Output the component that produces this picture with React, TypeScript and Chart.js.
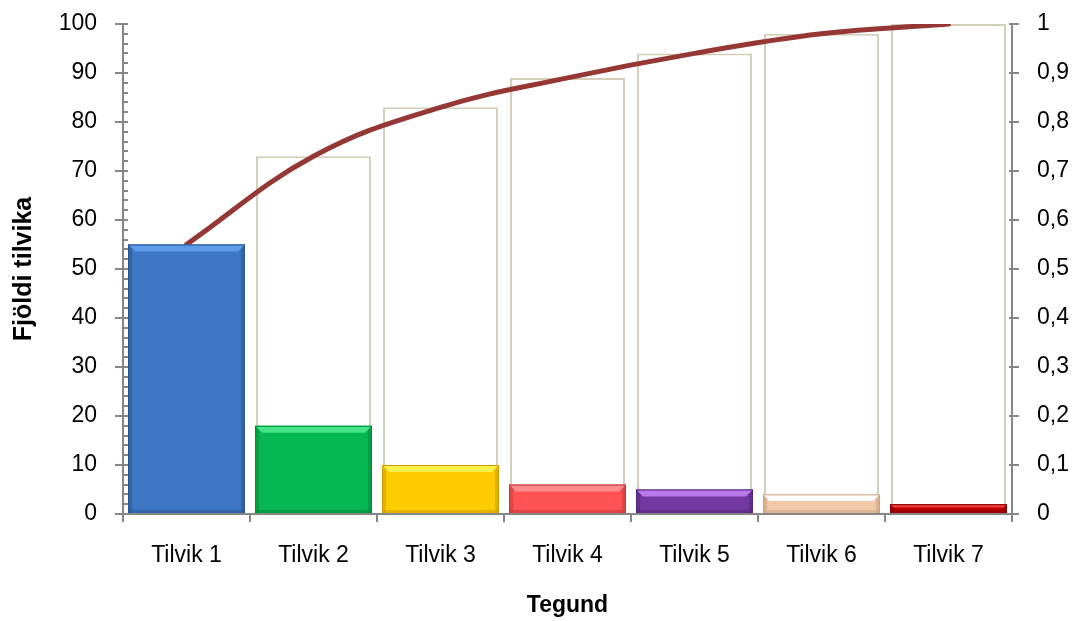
import React, { useEffect, useRef } from "react";
import { Chart, registerables } from "chart.js";

Chart.register(...registerables);

const categories = ["Tilvik 1", "Tilvik 2", "Tilvik 3", "Tilvik 4", "Tilvik 5", "Tilvik 6", "Tilvik 7"];
const counts = [55, 18, 10, 6, 5, 4, 2];
const cumulativeCounts = [55, 73, 83, 89, 94, 98, 100];
const cumulativeShare = [0.55, 0.73, 0.83, 0.89, 0.94, 0.98, 1.0];
const leftTicks = [0, 10, 20, 30, 40, 50, 60, 70, 80, 90, 100];
const rightTickLabels = ["0", "0,1", "0,2", "0,3", "0,4", "0,5", "0,6", "0,7", "0,8", "0,9", "1"];

const barColors = ["#3D77C4", "#07B753", "#FFCC00", "#FF5252", "#7438A2", "#F2C9A6", "#C00000"];
const barHighlights = ["#5B9BE8", "#44E386", "#FFF04A", "#FF8C8C", "#B97AEC", "#FFFFFF", "#E84040"];
const barEdges = ["#2A5590", "#058A3E", "#C89E00", "#C23A3A", "#52287A", "#C9A27F", "#850000"];

const FONT = "'Liberation Sans', Arial, sans-serif";
const AXIS_COLOR = "#868686";

const decorPlugin = {
  id: "decor",
  afterDatasetsDraw(chart: any) {
    const ctx = chart.ctx;
    const meta = chart.getDatasetMeta(1);
    ctx.save();
    meta.data.forEach((el: any, i: number) => {
      const { x, y, base, width } = el.getProps(["x", "y", "base", "width"], true);
      const l = x - width / 2;
      const r = x + width / 2;
      const h = base - y;
      const strip = Math.min(7, h / 3);
      ctx.fillStyle = barEdges[i];
      ctx.globalAlpha = 0.55;
      ctx.fillRect(l, y, 4, h);
      ctx.fillRect(r - 4, y, 4, h);
      ctx.fillRect(l, base - 4, width, 4);
      ctx.globalAlpha = 1;
      ctx.fillStyle = barHighlights[i];
      ctx.beginPath();
      ctx.moveTo(l, y);
      ctx.lineTo(r, y);
      ctx.lineTo(r - strip, y + strip);
      ctx.lineTo(l + strip, y + strip);
      ctx.closePath();
      ctx.fill();
      ctx.strokeStyle = barEdges[i];
      ctx.lineWidth = 1;
      ctx.strokeRect(l + 0.5, y + 0.5, width - 1, h - 1);
    });
    ctx.restore();
  },
  afterDraw(chart: any) {
    const ctx = chart.ctx;
    const { left, right, top, bottom } = chart.chartArea;
    const yS = chart.scales.y;
    const y1S = chart.scales.y1;
    const xS = chart.scales.x;
    ctx.save();
    ctx.strokeStyle = AXIS_COLOR;
    ctx.lineWidth = 2;
    ctx.beginPath();
    ctx.moveTo(left, top);
    ctx.lineTo(left, bottom);
    for (let v = 0; v <= 100; v += 2) {
      const py = Math.round(yS.getPixelForValue(v));
      if (v % 10 === 0) {
        ctx.moveTo(left - 8, py);
        ctx.lineTo(left + 5, py);
      } else {
        ctx.moveTo(left, py);
        ctx.lineTo(left + 5, py);
      }
    }
    ctx.moveTo(right, top);
    ctx.lineTo(right, bottom);
    for (let k = 0; k <= 10; k++) {
      const py = Math.round(y1S.getPixelForValue(k / 10));
      ctx.moveTo(right - 3, py);
      ctx.lineTo(right + 7, py);
    }
    ctx.moveTo(left - 8, bottom);
    ctx.lineTo(right + 3, bottom);
    const n = categories.length;
    const half = (xS.getPixelForValue(1) - xS.getPixelForValue(0)) / 2;
    for (let i = 0; i <= n; i++) {
      const px = i < n ? xS.getPixelForValue(i) - half : xS.getPixelForValue(n - 1) + half;
      ctx.moveTo(Math.round(px), bottom);
      ctx.lineTo(Math.round(px), bottom + 8);
    }
    ctx.stroke();
    ctx.restore();
  },
};

export default function App() {
  const ref = useRef<HTMLCanvasElement | null>(null);

  useEffect(() => {
    if (!ref.current) return;
    const chart = new Chart(ref.current, {
      type: "bar",
      data: {
        labels: categories,
        datasets: [
          {
            type: "line",
            label: "Uppsafnað hlutfall",
            data: cumulativeShare,
            yAxisID: "y1",
            borderColor: "#953735",
            borderWidth: 5,
            pointRadius: 0,
            tension: 0.4,
            borderCapStyle: "round",
            order: 0,
          } as any,
          {
            type: "bar",
            label: "Fjöldi",
            data: counts,
            yAxisID: "y",
            backgroundColor: barColors,
            borderWidth: 0,
            grouped: false,
            barPercentage: 0.92,
            categoryPercentage: 1,
            order: 1,
          } as any,
          {
            type: "bar",
            label: "Uppsafnaður fjöldi",
            data: cumulativeCounts,
            yAxisID: "y",
            backgroundColor: "#FFFFFF",
            borderColor: "#D3CEBA",
            borderWidth: 2,
            grouped: false,
            barPercentage: 0.905,
            categoryPercentage: 1,
            order: 2,
          } as any,
        ],
      },
      options: {
        responsive: false,
        maintainAspectRatio: false,
        animation: false,
        layout: { padding: { top: 24, left: 0, right: 0, bottom: 0 } },
        plugins: { legend: { display: false }, tooltip: { enabled: false } },
        scales: {
          x: {
            offset: true,
            grid: { display: false, drawTicks: false },
            border: { display: false },
            ticks: { color: "#000", font: { family: FONT, size: 23 }, padding: 28, maxRotation: 0 },
            title: {
              display: true,
              text: "Tegund",
              color: "#000",
              font: { family: FONT, size: 23, weight: "bold" },
              padding: { top: 0, bottom: 2 },
            },
            afterFit: (s: any) => {
              s.height = 107;
              s.paddingLeft = 0;
              s.paddingRight = 0;
            },
          },
          y: {
            position: "left",
            min: 0,
            max: 100,
            afterBuildTicks: (s: any) => {
              s.ticks = leftTicks.map((v) => ({ value: v }));
            },
            grid: { display: false, drawTicks: false },
            border: { display: false },
            ticks: { color: "#000", font: { family: FONT, size: 23 }, padding: 26 },
            title: {
              display: true,
              text: "Fjöldi tilvika",
              color: "#000",
              font: { family: FONT, size: 25, weight: "bold" },
              padding: { top: 9, bottom: 0 },
            },
            afterFit: (s: any) => {
              s.width = 123;
              s.paddingTop = 0;
              s.paddingBottom = 0;
            },
          },
          y1: {
            position: "right",
            min: 0,
            max: 1,
            afterBuildTicks: (s: any) => {
              s.ticks = rightTickLabels.map((_, k) => ({ value: k / 10 }));
            },
            grid: { display: false, drawTicks: false },
            border: { display: false },
            ticks: {
              color: "#000",
              font: { family: FONT, size: 23 },
              padding: 25,
              callback: (_v: any, idx: number) => rightTickLabels[idx],
            },
            afterFit: (s: any) => {
              s.width = 65;
              s.paddingTop = 0;
              s.paddingBottom = 0;
            },
          },
        },
      },
      plugins: [decorPlugin],
    });
    return () => chart.destroy();
  }, []);

  return (
    <div style={{ position: "absolute", left: 0, top: 0, width: 1077, height: 621, background: "#fff" }}>
      <canvas ref={ref} width={1077} height={621} style={{ display: "block" }} />
    </div>
  );
}
